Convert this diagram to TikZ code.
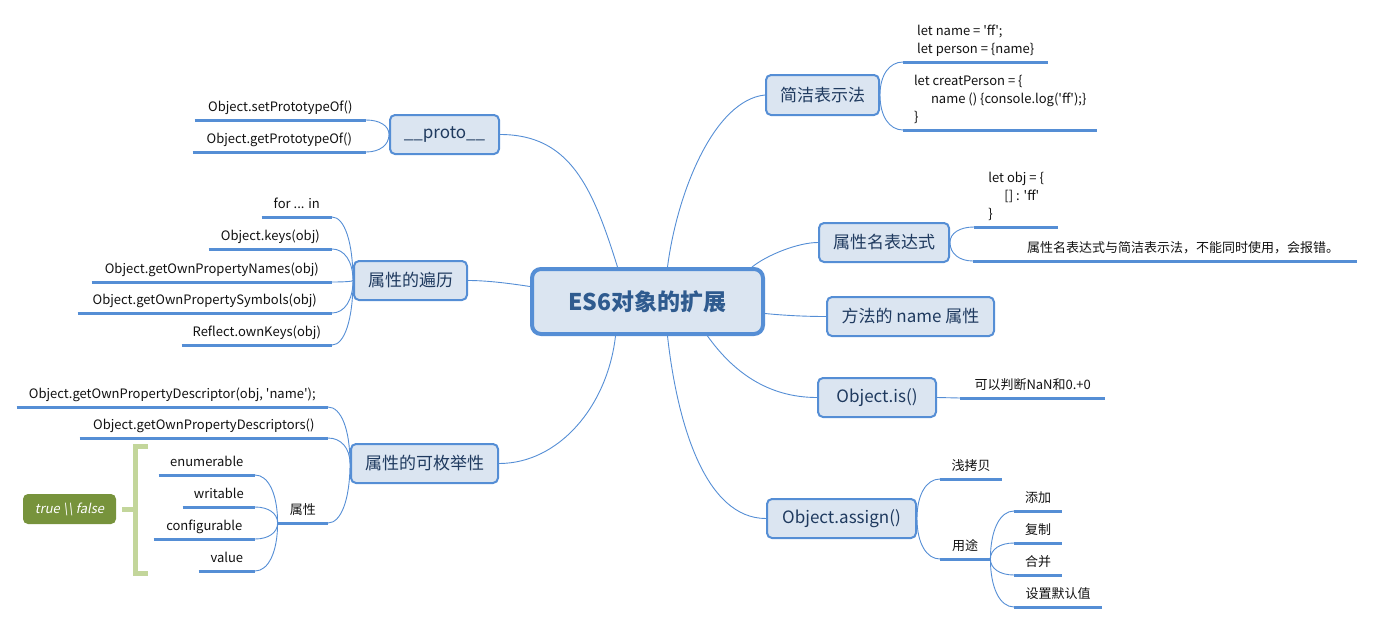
\documentclass[tikz,border=0pt]{standalone}
\usepackage{fontspec}
\setmainfont{Noto Sans CJK SC}
\newfontfamily\slantfont[FakeSlant=0.2]{Noto Sans CJK SC}
\usetikzlibrary{calc}

\definecolor{lineblue}{HTML}{558ED5}
\definecolor{nodefill}{HTML}{DBE5F1}
\definecolor{branchtext}{HTML}{1F3A5F}
\definecolor{roottext}{HTML}{2F5B8F}
\definecolor{leaftext}{HTML}{111111}
\definecolor{bracegreen}{HTML}{C3D69B}
\definecolor{taggreen}{HTML}{77933C}

\newcommand\leaffont{\fontsize{13}{18}\selectfont}
\newcommand\sq{\textquotesingle}

\begin{document}
\begin{tikzpicture}[x=1pt,y=-1pt,
  link/.style={draw=lineblue,line width=0.9pt},
  fork/.style={to path={.. controls ($(\tikztostart)!.6!(\tikztostart |- \tikztotarget)$)
    and ($(\tikztotarget)!.6!(\tikztostart |- \tikztotarget)$) .. (\tikztotarget)}},
  uline/.style={draw=lineblue,line width=3pt},
  root/.style={draw=lineblue,fill=nodefill,line width=4pt,rounded corners=9pt,
    text=roottext,font=\fontsize{23}{26}\selectfont\bfseries,
    minimum width=231pt,minimum height=65pt},
  branch/.style={draw=lineblue,fill=nodefill,line width=2pt,rounded corners=5pt,
    text=branchtext,font=\fontsize{17}{20}\selectfont,minimum height=39pt},
  leaf/.style={font=\leaffont,text=leaftext,inner xsep=0pt,inner ysep=5pt,text depth=3pt,
    append after command={(\tikzlastnode.south west) edge[uline] (\tikzlastnode.south east)}},
  brace/.style={draw=bracegreen,line width=5pt},
  tag/.style={fill=taggreen,rounded corners=5pt,text=white,font=\leaffont\slantfont,
    minimum width=93pt,minimum height=30pt}]
  \useasboundingbox (0,0) rectangle (1373,624);

  % Root
  \node[root] (root) at (647.5,301.5) {ES6对象的扩展};

  % Branches
  \node[branch,minimum width=109pt] (proto) at (444.5,134.5) {\_\_proto\_\_};
  \node[branch,minimum width=113pt] (bianli) at (410.5,280.5) {属性的遍历};
  \node[branch,minimum width=147pt] (meiju) at (424.5,463.5) {属性的可枚举性};
  \node[branch,minimum width=113pt,minimum height=40pt] (jianjie) at (822.5,95) {简洁表示法};
  \node[branch,minimum width=130pt] (mingbiao) at (884,242.5) {属性名表达式};
  \node[branch,minimum width=167pt] (fangfa) at (910.5,316.5) {方法的 name 属性};
  \node[branch,minimum width=118pt] (objis) at (877,397.5) {Object.is()};
  \node[branch,minimum width=149pt] (assign) at (841.5,518.5) {Object.assign()};

  % Root to branches
  \draw[link] ([xshift=-30pt]root.north) .. controls +(-25,-80) and +(70,0) .. (proto.east);
  \draw[link] ([xshift=20pt]root.north) .. controls +(10,-77) and +(-50,5) .. (jianjie.west);
  \draw[link] ([xshift=-13pt]root.north east) .. controls +(15,-12) and +(-20,0) .. (mingbiao.west);
  \draw[link] ([yshift=15pt]root.west) .. controls +(-20,-3) and +(20,0) .. (bianli.east);
  \draw[link] ([yshift=-12pt]root.east) .. controls +(20,2) and +(-20,0) .. (fangfa.west);
  \draw[link] ([xshift=60pt]root.south) .. controls +(25,35) and +(-50,0) .. (objis.west);
  \draw[link] ([xshift=20pt]root.south) .. controls +(10,90) and +(-60,0) .. (assign.west);
  \draw[link] ([xshift=-32pt]root.south) .. controls +(-8,70) and +(60,0) .. (meiju.east);

  % __proto__
  \node[leaf,anchor=south east,minimum width=171pt] (pr1) at (366,120) {Object.setPrototypeOf()};
  \node[leaf,anchor=south east,minimum width=173pt] (pr2) at (366,152) {Object.getPrototypeOf()};
  \foreach \c in {pr1,pr2}
    \draw[link,fork] (proto.west) to (\c.south east);

  % 属性的遍历
  \node[leaf,anchor=south east,minimum width=70pt] (bl1) at (332,217) {for ... in};
  \node[leaf,anchor=south east,minimum width=123pt] (bl2) at (332,249) {Object.keys(obj)};
  \node[leaf,anchor=south east,minimum width=240pt] (bl3) at (332,282) {Object.getOwnPropertyNames(obj)};
  \node[leaf,anchor=south east,minimum width=254pt] (bl4) at (332,313) {Object.getOwnPropertySymbols(obj)};
  \node[leaf,anchor=south east,minimum width=150pt] (bl5) at (332,345) {Reflect.ownKeys(obj)};
  \foreach \c in {bl1,bl2,bl3,bl4,bl5}
    \draw[link,fork] (bianli.west) to (\c.south east);

  % 属性的可枚举性
  \node[leaf,anchor=south east,minimum width=311pt] (mj1) at (328,407) {Object.getOwnPropertyDescriptor(obj, \sq name\sq);};
  \node[leaf,anchor=south east,minimum width=248pt] (mj2) at (328,438) {Object.getOwnPropertyDescriptors()};
  \node[leaf,anchor=south east,minimum width=50pt] (mj3) at (328,523) {属性};
  \foreach \c in {mj1,mj2,mj3}
    \draw[link,fork] (meiju.west) to (\c.south east);

  \node[leaf,anchor=south east,minimum width=96pt] (sx1) at (255,475) {enumerable};
  \node[leaf,anchor=south east,minimum width=72pt] (sx2) at (255,507) {writable};
  \node[leaf,anchor=south east,minimum width=101pt] (sx3) at (255,539) {configurable};
  \node[leaf,anchor=south east,minimum width=56pt] (sx4) at (255,571) {value};
  \foreach \c in {sx1,sx2,sx3,sx4}
    \draw[link,fork] (mj3.south west) to (\c.south east);

  % true \\ false
  \coordinate (brc) at (135,509);
  \draw[brace] (148,446.5) -- (135,446.5) -- (135,573) -- (148,573);
  \node[tag] (tf) at (69.5,509) {true \textbackslash\textbackslash{} false};
  \draw[brace] ([xshift=6pt]tf.east) -- (brc);

  % 简洁表示法
  \node[leaf,anchor=south west,minimum width=145pt,align=left] (jj1) at (903,62)
    {let name = \sq ff\sq;\\let person = \{name\}};
  \node[leaf,anchor=south west,minimum width=194pt,align=left] (jj2) at (903,130)
    {let creatPerson = \{\\\hspace*{17pt}name () \{console.log(\sq ff\sq);\}\\\}};
  \foreach \c in {jj1,jj2}
    \draw[link,fork] (jianjie.east) to (\c.south west);

  % 属性名表达式
  \node[leaf,anchor=south west,minimum width=84pt,align=left] (mb1) at (974,227)
    {let obj = \{\\\hspace*{16pt}[] : \sq ff\sq\\\}};
  \node[leaf,anchor=south west,minimum width=384pt,text width=348pt,align=right] (mb2) at (973,261)
    {属性名表达式与简洁表示法，不能同时使用，会报错。};
  \foreach \c in {mb1,mb2}
    \draw[link,fork] (mingbiao.east) to (\c.south west);

  % Object.is()
  \node[leaf,anchor=south west,minimum width=145pt] (is1) at (960,398) {可以判断NaN和0.+0};
  \draw[link] (objis.east) -- (is1.south west);

  % Object.assign()
  \node[leaf,anchor=south west,minimum width=62pt] (as1) at (940,479) {浅拷贝};
  \node[leaf,anchor=south west,minimum width=50pt] (as2) at (940,559) {用途};
  \foreach \c in {as1,as2}
    \draw[link,fork] (assign.east) to (\c.south west);

  \node[leaf,anchor=south west,minimum width=48pt] (yt1) at (1014,511) {添加};
  \node[leaf,anchor=south west,minimum width=48pt] (yt2) at (1014,543) {复制};
  \node[leaf,anchor=south west,minimum width=48pt] (yt3) at (1014,575) {合并};
  \node[leaf,anchor=south west,minimum width=88pt] (yt4) at (1014,607) {设置默认值};
  \foreach \c in {yt1,yt2,yt3,yt4}
    \draw[link,fork] (as2.south east) to (\c.south west);
\end{tikzpicture}
\end{document}
